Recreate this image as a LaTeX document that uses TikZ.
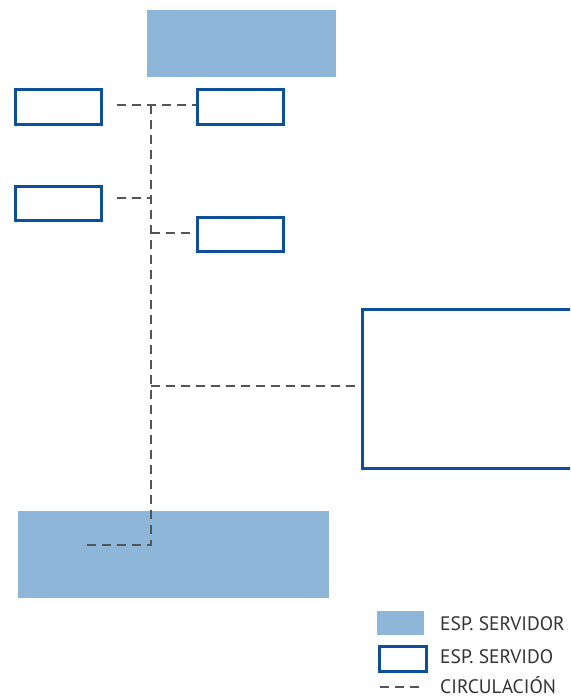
\documentclass[tikz,border=0pt]{standalone}
\usepackage{fontspec}
\setmainfont{PT Sans}
\definecolor{servidor}{HTML}{8DB6D8}
\definecolor{servido}{HTML}{0E4F9B}
\definecolor{circ}{HTML}{555555}
\definecolor{label}{HTML}{333333}
\begin{document}
\begin{tikzpicture}[x=1pt,y=-1pt,
  servidorbox/.style={fill=servidor,draw=none,inner sep=0pt,anchor=north west},
  servidobox/.style={draw=servido,line width=3.4pt,fill=white,inner sep=0pt,anchor=north west},
  circulacion/.style={draw=circ,line width=1.5pt,dash pattern=on 9pt off 6pt},
  legendtext/.style={anchor=base west,inner sep=0pt,text=label,font=\fontsize{19.5}{22}\selectfont}]
\useasboundingbox (0,0) rectangle (570,700);
\clip (0,0) rectangle (570,700);

% served spaces
\node[servidorbox,minimum width=189pt,minimum height=67pt] (top) at (147,10) {};
\node[servidorbox,minimum width=311pt,minimum height=87pt] (bottom) at (18,511) {};

% serving spaces
\node[servidobox,minimum width=86pt,minimum height=35pt] (a) at (14,88) {};
\node[servidobox,minimum width=86pt,minimum height=35pt] (b) at (196,88) {};
\node[servidobox,minimum width=86pt,minimum height=34pt] (c) at (14,185) {};
\node[servidobox,minimum width=86pt,minimum height=34pt] (d) at (196,216) {};
\node[servidobox,minimum width=260pt,minimum height=159pt] (e) at (361,308) {};

% circulation: one spine with branches to each space
\coordinate (j1) at (151,105);
\coordinate (j2) at (151,198);
\coordinate (j3) at (151,233);
\coordinate (j4) at (151,386);
\coordinate (j5) at (151,545);
\coordinate (aend) at (117,105);
\coordinate (cend) at (117,198);
\coordinate (fend) at (85,545);
\draw[circulacion] (j1) -- (j5) -- (fend);
\draw[circulacion] (aend) -- (j1) -- (j1 -| b.west);
\draw[circulacion] (cend) -- (j2);
\draw[circulacion] (j3) -- (j3 -| d.west);
\draw[circulacion] (j4) -- (j4 -| e.west);

% legend
\node[servidorbox,minimum width=47pt,minimum height=24pt] (l1) at (377,611) {};
\node[servidobox,minimum width=47pt,minimum height=25pt] (l2) at (378,645) {};
\coordinate (l3a) at (380,687);
\coordinate (l3b) at (422,687);
\draw[circulacion] (l3a) -- (l3b);
\node[legendtext] (t1) at (440,630) {ESP. SERVIDOR};
\node[legendtext] (t2) at (440,663) {ESP. SERVIDO};
\node[legendtext] (t3) at (440,693) {CIRCULACIÓN};
\end{tikzpicture}
\end{document}
